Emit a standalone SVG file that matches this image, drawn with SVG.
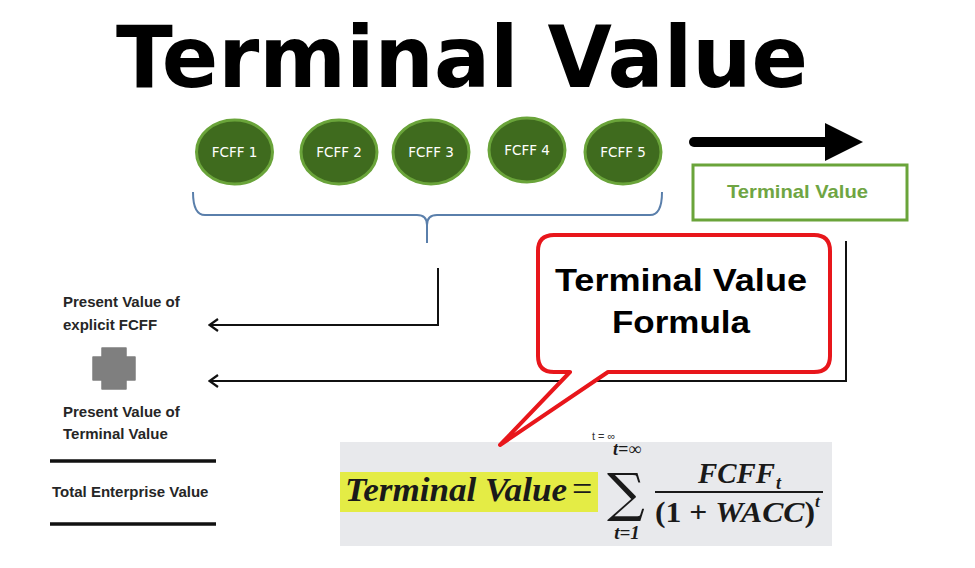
<svg xmlns="http://www.w3.org/2000/svg" width="975" height="568" viewBox="0 0 975 568">
<style>
.fc ellipse{fill:#3f6b1e;stroke:#6aa43a;stroke-width:3}
.fc text{fill:#fff;font-family:"DejaVu Sans",sans-serif;font-size:13.5px;text-anchor:middle}
.lbl{font-family:"Liberation Sans",Arial,sans-serif;font-weight:bold;font-size:15px;fill:#262626}
.conn{fill:none;stroke:#111;stroke-width:2}
.m{font-family:"Liberation Serif","DejaVu Serif",serif;font-weight:bold;font-style:italic;fill:#1a1a1a}
</style>
<defs>
<marker id="ah" viewBox="-11 -7 12 14" markerWidth="12" markerHeight="14" refX="0" refY="0" orient="auto" markerUnits="userSpaceOnUse">
<path d="M-9,-6 L-0.5,0 L-9,6" fill="none" stroke="#111" stroke-width="2.2"/>
</marker>
</defs>
<rect width="975" height="568" fill="#fff"/>
<g id="title">
<text x="116" y="87" font-family="DejaVu Sans,sans-serif" font-weight="bold" font-size="85" textLength="692" lengthAdjust="spacingAndGlyphs" fill="#000">Terminal Value</text>
</g>
<g id="fcff1" class="fc"><ellipse cx="234.5" cy="152" rx="38" ry="32"/><text x="234.5" y="157">FCFF 1</text></g>
<g id="fcff2" class="fc"><ellipse cx="339" cy="152" rx="38" ry="32"/><text x="339" y="157">FCFF 2</text></g>
<g id="fcff3" class="fc"><ellipse cx="431" cy="152" rx="38" ry="32"/><text x="431" y="157">FCFF 3</text></g>
<g id="fcff4" class="fc"><ellipse cx="527" cy="150" rx="38" ry="32"/><text x="527" y="155">FCFF 4</text></g>
<g id="fcff5" class="fc"><ellipse cx="623" cy="152" rx="38" ry="32"/><text x="623" y="157">FCFF 5</text></g>
<g id="tv-box">
<rect x="693" y="165" width="214" height="55" fill="#fff" stroke="#6aa43a" stroke-width="3"/>
<text x="727" y="198" font-family="Liberation Sans,Arial,sans-serif" font-weight="bold" font-size="19" textLength="141" lengthAdjust="spacingAndGlyphs" fill="#6fa543">Terminal Value</text>
</g>
<g id="left-labels">
<text class="lbl" x="63" y="307">Present Value  of</text>
<text class="lbl" x="63" y="330">explicit FCFF</text>
<path d="M102 348 H126 V357 H135 V380 H126 V389 H102 V380 H93 V357 H102 Z" fill="#7f7f7f" stroke="#7f7f7f" stroke-width="1.5" stroke-linejoin="round"/>
<text class="lbl" x="63" y="417">Present Value  of</text>
<text class="lbl" x="63" y="439">Terminal Value</text>
<line x1="50" y1="461" x2="216" y2="461" stroke="#111" stroke-width="3.5"/>
<text class="lbl" x="52" y="497">Total Enterprise Value</text>
<line x1="50" y1="524" x2="216" y2="524" stroke="#111" stroke-width="3.5"/>
</g>
<g id="connectors">
<path d="M193 192 Q193 215 205 215 H417 Q427 215 427 225 V243 M427 225 Q427 215 437 215 H650 Q662 215 662 192" fill="none" stroke="#5a7fab" stroke-width="2"/>
<line x1="694" y1="142" x2="828" y2="142" stroke="#000" stroke-width="10" stroke-linecap="round"/>
<path d="M825 123 L863 142 L825 161 Z" fill="#000"/>
<path class="conn" d="M438 268 V325 H209" marker-end="url(#ah)"/>
<path class="conn" d="M846 241 V381 H209" marker-end="url(#ah)"/>
</g>
<g id="formula">
<rect x="340" y="442" width="492" height="104" fill="#e8e9ec"/>
<rect x="340" y="472" width="258" height="40" fill="#e4ec45"/>
<text class="m" x="345" y="501" font-size="34" textLength="222" lengthAdjust="spacingAndGlyphs">Terminal Value</text>
<text x="572" y="501" font-family="Liberation Serif,serif" font-size="36" fill="#1a1a1a">=</text>
<text x="592" y="440" font-family="Liberation Sans,sans-serif" font-size="11" fill="#333">t =  ∞</text>
<text class="m" x="627" y="455" font-size="18" text-anchor="middle">t=∞</text>
<text x="626" y="511" font-family="DejaVu Serif,serif" font-size="53" text-anchor="middle" fill="#1a1a1a">∑</text>
<text class="m" x="627" y="539" font-size="19" text-anchor="middle">t=1</text>
<text class="m" x="698" y="483" font-size="29" textLength="77" lengthAdjust="spacingAndGlyphs">FCFF</text>
<text class="m" x="776" y="489" font-size="18">t</text>
<line x1="655" y1="492" x2="823" y2="492" stroke="#1a1a1a" stroke-width="2"/>
<text x="655" y="522" font-family="Liberation Serif,serif" font-weight="bold" font-size="29" fill="#1a1a1a" textLength="160" lengthAdjust="spacingAndGlyphs">(1 + <tspan font-style="italic">WACC</tspan>)</text>
<text class="m" x="815" y="507" font-size="17">t</text>
</g>
<g id="callout">
<path d="M554 235 H814 Q830 235 830 251 V356 Q830 372 814 372 H608 L500 445 L570 372 H554 Q538 372 538 356 V251 Q538 235 554 235 Z" fill="#fff" stroke="#e8161b" stroke-width="4" stroke-linejoin="round"/>
<text x="555" y="291" font-family="Liberation Sans,Arial,sans-serif" font-weight="bold" font-size="32" textLength="252" lengthAdjust="spacingAndGlyphs" fill="#000">Terminal Value</text>
<text x="612" y="333" font-family="Liberation Sans,Arial,sans-serif" font-weight="bold" font-size="32" textLength="138" lengthAdjust="spacingAndGlyphs" fill="#000">Formula</text>
</g>
</svg>
